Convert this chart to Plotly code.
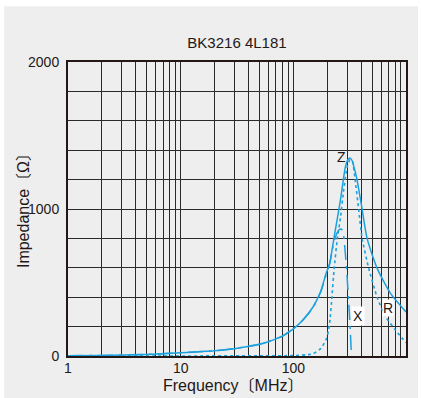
import plotly.graph_objects as go

# ---- data ----
freq_z = [1, 2, 5, 10, 20, 30, 50, 60, 80, 100, 120, 150, 175, 195, 210, 228, 245, 262, 290, 305, 318, 332, 345, 368, 408, 452, 555, 728, 1000]
imp_z = [2, 4, 11, 22, 36, 50, 80, 97, 135, 185, 240, 335, 440, 560, 630, 789, 930, 1061, 1288, 1335, 1347, 1330, 1288, 1197, 998, 798, 596, 426, 300]

freq_r = [1, 50, 100, 130, 150, 175, 195, 205, 212, 220, 230, 245, 262, 280, 300, 318, 335, 354, 380, 408, 467, 555, 657, 804, 1000]
imp_r = [0, 1, 3, 8, 15, 50, 110, 170, 250, 400, 590, 790, 940, 1130, 1285, 1335, 1325, 1197, 998, 798, 596, 397, 268, 177, 90]

freq_x = [1, 2, 5, 10, 20, 30, 50, 60, 80, 100, 120, 150, 175, 195, 210, 228, 245, 258, 270, 280, 290, 300, 310, 320, 328, 345]
imp_x = [2, 4, 11, 22, 36, 50, 80, 97, 135, 185, 240, 330, 435, 550, 625, 770, 840, 862, 860, 815, 690, 540, 370, 180, 0, -400]

x_tickvals = [m * 10 ** d for d in range(3) for m in range(1, 10)] + [1000]
x_ticktext = [str(v) if v in (1, 10, 100, 1000) else "" for v in x_tickvals]
y_tickvals = list(range(0, 2001, 200))
y_ticktext = [str(v) if v in (0, 1000, 2000) else "" for v in y_tickvals]

title_text = "BK3216 4L181"
x_title = "Frequency〔MHz〕"
y_title = "Impedance〔Ω〕"

BLUE = "#1ba1dd"
INK = "#231815"
FONT = "Liberation Sans, Arial, Noto Sans CJK JP, sans-serif"

fig = go.Figure()
fig.add_trace(go.Scatter(x=freq_z, y=imp_z, mode="lines", name="Z",
                         line=dict(color=BLUE, width=1.5, shape="spline", smoothing=0.6)))
fig.add_trace(go.Scatter(x=freq_r, y=imp_r, mode="lines", name="R",
                         line=dict(color=BLUE, width=1.6, dash="dot", shape="spline", smoothing=0.4)))
fig.add_trace(go.Scatter(x=freq_x, y=imp_x, mode="lines", name="X",
                         line=dict(color=BLUE, width=1.5, dash="longdashdot", shape="spline", smoothing=0.4)))

# gray panel behind the chart (white rim around it)
fig.add_shape(type="rect", xref="paper", yref="paper", x0=-0.189, x1=1.0355, y0=-0.15, y1=1.19,
              fillcolor="#eeeeee", line=dict(width=0), layer="below")

fig.update_layout(
    width=421, height=398,
    margin=dict(l=68, r=15, t=62, b=42),
    paper_bgcolor="white", plot_bgcolor="white",
    showlegend=False,
    font=dict(family=FONT, color=INK, size=14),
    title=dict(text=title_text, x=0.5, xref="paper", y=1 - 43 / 398, yref="container",
               xanchor="center", yanchor="middle", font=dict(size=15, color=INK)),
)
fig.update_xaxes(type="log", range=[0, 3], tickvals=x_tickvals, ticktext=x_ticktext,
                 showgrid=True, gridcolor="#2a2a2a", gridwidth=1,
                 showline=True, linecolor=INK, linewidth=2, mirror=True,
                 ticks="", ticklabelstandoff=-2, tickfont=dict(size=14, color=INK), zeroline=False)
fig.update_yaxes(range=[0, 2000], tickvals=y_tickvals, ticktext=y_ticktext,
                 showgrid=True, gridcolor="#2a2a2a", gridwidth=1,
                 showline=True, linecolor=INK, linewidth=2, mirror=True,
                 ticks="", ticklabelstandoff=4, tickfont=dict(size=14, color=INK), zeroline=False)

fig.add_annotation(text=x_title, xref="paper", yref="paper", x=(233 - 68) / 338, y=-(385 - 356) / 294,
                   showarrow=False, font=dict(size=16, color=INK), xanchor="center", yanchor="middle")
fig.add_annotation(text=y_title, xref="paper", yref="paper", x=(23 - 68) / 338, y=0.51,
                   textangle=-90, showarrow=False, font=dict(size=16, color=INK),
                   xanchor="center", yanchor="middle")

fig.add_annotation(text="Z", x=2.427, y=1354, xref="x", yref="y", showarrow=False,
                   font=dict(size=14, color=INK))
fig.add_annotation(text="X", x=2.578, y=272, xref="x", yref="y", showarrow=False,
                   font=dict(size=14, color=INK), bgcolor="white")
fig.add_annotation(text="R", x=2.844, y=327, xref="x", yref="y", showarrow=False,
                   font=dict(size=14, color=INK), bgcolor="white", borderpad=0)

fig.write_html("out.html", config={"displayModeBar": False},
               post_script="document.body.style.margin='0';document.body.style.overflow='hidden';")
